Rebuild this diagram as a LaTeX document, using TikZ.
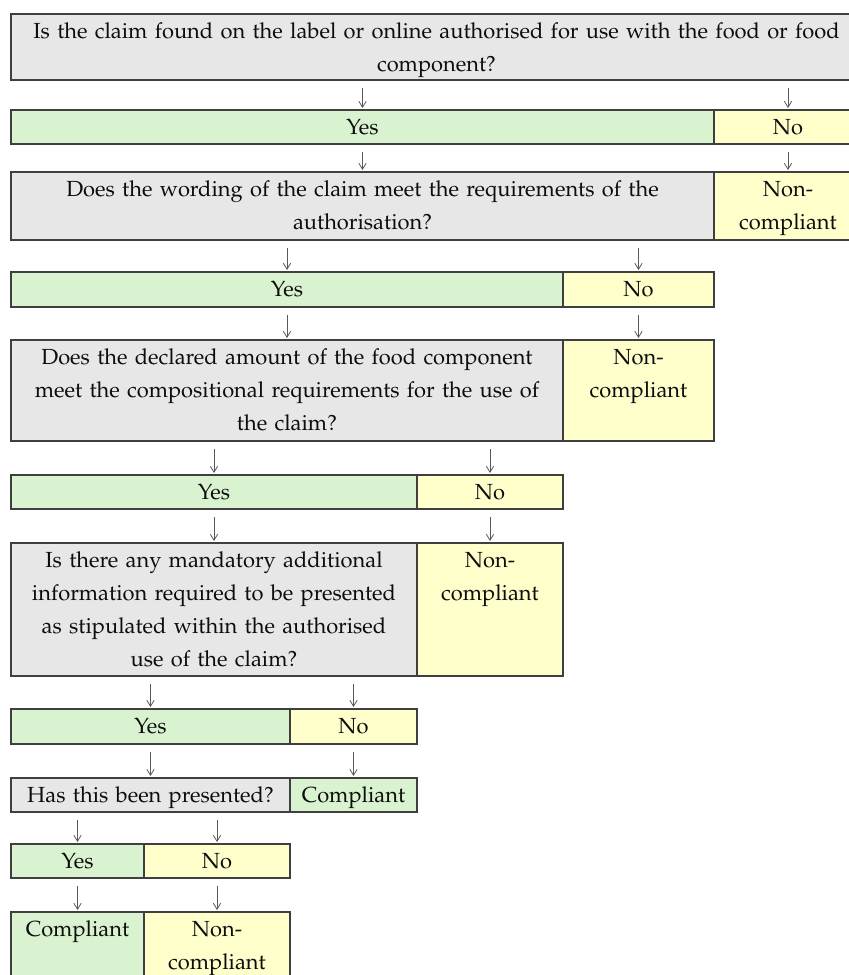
\documentclass[tikz,border=0pt]{standalone}
\usepackage[T1]{fontenc}
\usepackage{mathpazo}
\usetikzlibrary{arrows.meta}

\definecolor{qgray}{HTML}{E7E7E7}
\definecolor{yesgreen}{HTML}{D9F2D0}
\definecolor{noyellow}{HTML}{FFFFCC}
\definecolor{edge}{HTML}{3F3F3F}

\tikzset{
    cell/.style={draw=edge, line width=0.9pt, anchor=north west, align=center,
        inner xsep=3pt, inner ysep=0pt, outer sep=0pt, text height=18pt,
        font=\fontsize{16.4}{24.75}\selectfont, text=black!95},
    qcell/.style={cell, fill=qgray},
    yescell/.style={cell, fill=yesgreen},
    nocell/.style={cell, fill=noyellow},
    arr/.style={-{Straight Barb[length=4.5pt,width=5.5pt]}, draw=black!65,
        line width=0.6pt, shorten <=6pt, shorten >=1.5pt}
}

\begin{document}
\begin{tikzpicture}[x=0.75pt,y=-0.75pt]
\useasboundingbox (0,0) rectangle (849,975);

% Question 1
\node[qcell, text width=632.25pt, text depth=31.5pt] (q1) at (11,14) {Is the claim found on the label or online authorised for use with the food or food\\component?};

% Answers 1
\node[yescell, text width=521.25pt, text depth=7.5pt] (yes1) at (11,110) {Yes};
\node[nocell, text width=105pt, text depth=7.5pt] (no1) at (714,110) {No};

% Question 2
\node[qcell, text width=521.25pt, text depth=33pt] (q2) at (11,172) {Does the wording of the claim meet the requirements of the\\authorisation?};
\node[nocell, text width=105pt, text depth=33pt] (nc1) at (714,172) {Non-\\compliant};

% Answers 2
\node[yescell, text width=408pt, text depth=8.25pt] (yes2) at (11,272) {Yes};
\node[nocell, text width=107.25pt, text depth=8.25pt] (no2) at (563,272) {No};

% Question 3
\node[qcell, text width=408pt, text depth=57.75pt] (q3) at (11,340) {Does the declared amount of the food component\\meet the compositional requirements for the use of\\the claim?};
\node[nocell, text width=107.25pt, text depth=57.75pt] (nc2) at (563,340) {Non-\\compliant};

% Answers 3
\node[yescell, text width=298.5pt, text depth=7.5pt] (yes3) at (11,475) {Yes};
\node[nocell, text width=103.5pt, text depth=7.5pt] (no3) at (417,475) {No};

% Question 4
\node[qcell, text width=298.5pt, text depth=81.75pt] (q4) at (11,543) {Is there any mandatory additional\\information required to be presented\\as stipulated within the authorised\\use of the claim?};
\node[nocell, text width=103.5pt, text depth=81.75pt] (nc3) at (417,543) {Non-\\compliant};

% Answers 4
\node[yescell, text width=203.25pt, text depth=8.25pt] (yes4) at (11,709) {Yes};
\node[nocell, text width=89.25pt, text depth=8.25pt] (no4) at (290,709) {No};

% Question 5
\node[qcell, text width=203.25pt, text depth=7.5pt] (q5) at (11,778) {Has this been presented?};
\node[yescell, text width=89.25pt, text depth=7.5pt] (comp1) at (290,778) {Compliant};

% Answers 5
\node[yescell, text width=93.75pt, text depth=7.5pt] (yes5) at (11,844) {Yes};
\node[nocell, text width=103.5pt, text depth=7.5pt] (no5) at (144,844) {No};

% Outcome
\node[yescell, text width=93.75pt, text depth=31.5pt] (comp2) at (11,912) {Compliant};
\node[nocell, text width=103.5pt, text depth=31.5pt] (nc4) at (144,912) {Non-\\compliant};

% Arrows
\draw[arr] (yes1.north |- q1.south) -- (yes1.north);
\draw[arr] (no1.north |- q1.south) -- (no1.north);
\draw[arr] (q2.north |- yes1.south) -- (q2.north);
\draw[arr] (nc1.north |- no1.south) -- (nc1.north);
\draw[arr] (yes2.north |- q2.south) -- (yes2.north);
\draw[arr] (no2.north |- q2.south) -- (no2.north);
\draw[arr] (q3.north |- yes2.south) -- (q3.north);
\draw[arr] (nc2.north |- no2.south) -- (nc2.north);
\draw[arr] (yes3.north |- q3.south) -- (yes3.north);
\draw[arr] (no3.north |- q3.south) -- (no3.north);
\draw[arr] (q4.north |- yes3.south) -- (q4.north);
\draw[arr] (nc3.north |- no3.south) -- (nc3.north);
\draw[arr] (yes4.north |- q4.south) -- (yes4.north);
\draw[arr] (no4.north |- q4.south) -- (no4.north);
\draw[arr] (q5.north |- yes4.south) -- (q5.north);
\draw[arr] (comp1.north |- no4.south) -- (comp1.north);
\draw[arr] (yes5.north |- q5.south) -- (yes5.north);
\draw[arr] (no5.north |- q5.south) -- (no5.north);
\draw[arr] (comp2.north |- yes5.south) -- (comp2.north);
\draw[arr] (nc4.north |- no5.south) -- (nc4.north);

\end{tikzpicture}
\end{document}
